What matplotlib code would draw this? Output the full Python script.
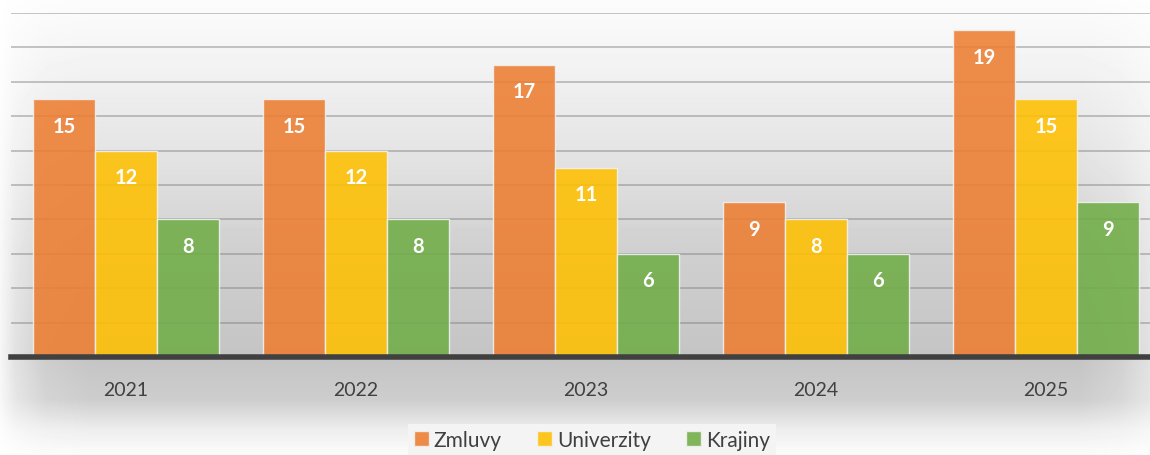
import numpy as np
import matplotlib
matplotlib.use("Agg")
import matplotlib.pyplot as plt

years = ["2021", "2022", "2023", "2024", "2025"]
zmluvy = [15, 15, 17, 9, 19]
univerzity = [12, 12, 11, 8, 15]
krajiny = [8, 8, 6, 6, 9]

series = [("Zmluvy", zmluvy, "#ED7D31"),
          ("Univerzity", univerzity, "#FFC000"),
          ("Krajiny", krajiny, "#70AD47")]

plt.rcParams["font.family"] = ["Lato", "DejaVu Sans"]

W, H = 1150, 456
fig = plt.figure(figsize=(W / 100, H / 100), dpi=100)

# soft grey shadow behind the plot area
bg = fig.add_axes([0, 0, 1, 1], zorder=0)
yy = np.arange(H)
xx = np.arange(W)
v = np.interp(yy, [0, 60, 150, 250, 358, 400, 430, 456], [0.05, 0.2, 0.45, 0.8, 1.0, 0.85, 0.3, 0.05])
h = np.interp(xx, [0, 15, 45, 90, 1080, 1120, 1150], [0.15, 0.5, 0.85, 1.0, 1.0, 0.8, 0.5])
d = np.outer(v, h)
img = 1 - d * (255 - 196) / 255
bg.imshow(img, cmap="gray", vmin=0, vmax=1, aspect="auto", interpolation="bilinear")
bg.axis("off")

# category width ~230 px, first centre at x~126
ax = fig.add_axes([11 / W, 1 - 358 / H, 1150 / W, (358 - 14) / H], zorder=1)
ax.patch.set_alpha(0)

x = np.arange(len(years))
bw = 0.27
for i, (name, vals, col) in enumerate(series):
    pos = x + (i - 1) * bw
    ax.bar(pos, vals, bw, color=col, alpha=0.88, edgecolor="#f2f2f2",
           linewidth=1.0, label=name, zorder=3)
    for p, val in zip(pos, vals):
        ax.text(p, val - 1.55, str(val), ha="center", va="center", color="white",
                fontsize=14.5, fontweight="bold", zorder=4)

ax.set_xlim(-0.5, len(years) - 0.5)
ax.set_ylim(0, 20)
ax.set_yticks(np.arange(0, 21, 2))
ax.yaxis.grid(True, color="#7f7f7f", alpha=0.45, linewidth=1.4, zorder=1)
ax.set_axisbelow(True)
ax.tick_params(axis="y", left=False, labelleft=False)
ax.set_xticks(x)
ax.set_xticklabels(years, fontsize=14, color="#404040")
ax.tick_params(axis="x", length=0, pad=17)
for s in ["top", "right", "left"]:
    ax.spines[s].set_visible(False)
ax.spines["bottom"].set_color("#404040")
ax.spines["bottom"].set_linewidth(4)
ax.spines["bottom"].set_zorder(5)

leg = fig.legend(loc="center", bbox_to_anchor=(592 / W, 1 - 441 / H), ncol=3,
                 fontsize=15, frameon=True, facecolor="#f4f4f4", edgecolor="none",
                 framealpha=1, fancybox=False, handlelength=0.7, handleheight=0.7,
                 handletextpad=0.25, columnspacing=1.7, borderpad=0.3)
for t in leg.get_texts():
    t.set_color("#404040")

fig.savefig("out.png", dpi=100)
